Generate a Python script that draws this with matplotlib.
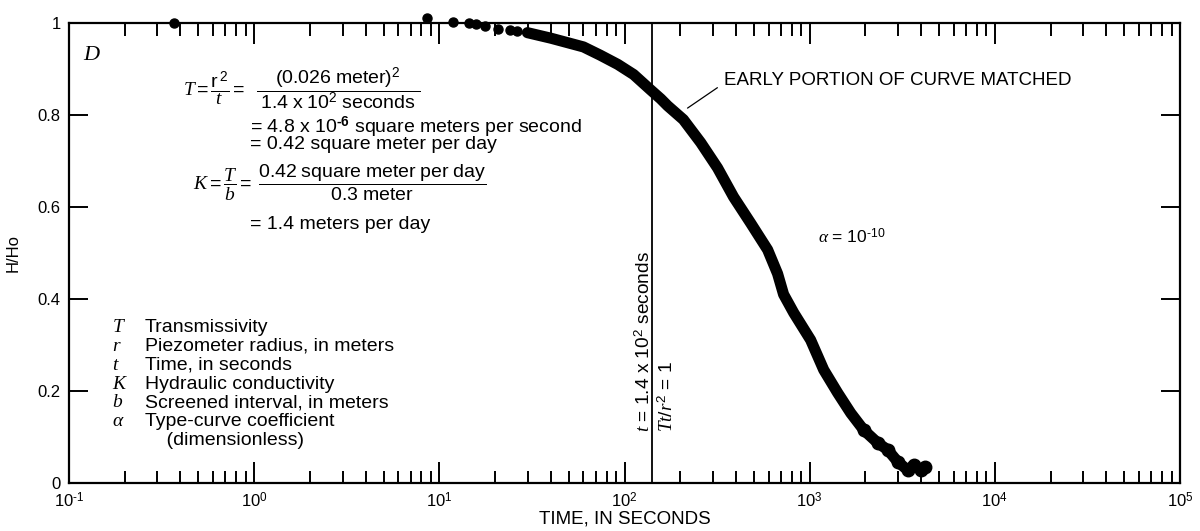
import matplotlib
matplotlib.use('Agg')
import matplotlib.pyplot as plt
from matplotlib.ticker import FixedLocator, FuncFormatter, LogLocator
import numpy as np

plt.rcParams['font.family'] = ['Liberation Sans', 'DejaVu Sans']
plt.rcParams['mathtext.fontset'] = 'custom'
plt.rcParams['mathtext.rm'] = 'Liberation Sans'
plt.rcParams['mathtext.it'] = 'Liberation Serif:italic'
plt.rcParams['mathtext.bf'] = 'Liberation Sans:bold'

HY = '\u2010'  # short hyphen for exponents, like the original lettering

# sparse early readings (seconds, H/Ho)
early_t = [0.37, 8.6, 11.8, 14.4, 15.7, 17.7, 20.8, 24.2, 26.4]
early_h = [1.0, 1.01, 1.003, 1.0, 0.998, 0.993, 0.988, 0.985, 0.983]

# dense part of the record
curve_t = [29.9, 40, 60, 74, 92, 112, 138, 157, 171, 208, 258, 318, 388, 480,
           593, 671, 723, 820, 1012, 1191, 1416, 1667, 1960, 2333, 2642, 2990,
           3388, 3648, 3981, 4200]
curve_h = [0.979, 0.967, 0.948, 0.930, 0.910, 0.888, 0.855, 0.835, 0.82, 0.79,
           0.74, 0.685, 0.622, 0.565, 0.507, 0.455, 0.41, 0.37, 0.311, 0.246,
           0.196, 0.152, 0.115, 0.087, 0.072, 0.046, 0.028, 0.039, 0.028, 0.035]

t_match = 140  # Tt/r^2 = 1
y_ticks = [0, 0.2, 0.4, 0.6, 0.8, 1]

legend_sym = ['$T$', '$r$', '$t$', '$K$', '$b$', r'$\alpha$', '']
legend_txt = ['Transmissivity', 'Piezometer radius, in meters', 'Time, in seconds',
              'Hydraulic conductivity', 'Screened interval, in meters',
              'Type-curve coefficient', '    (dimensionless)']


def dec_label(v, pos):
    e = int(round(np.log10(v)))
    s = str(abs(e))
    if e < 0:
        s = HY + s
    return '10$^{%s}$' % s


fig = plt.figure(figsize=(12, 5.31), dpi=100)
ax = fig.add_axes([69 / 1200, 48 / 531, 1111 / 1200, 460 / 531])
ax.set_xscale('log')
ax.set_xlim(0.1, 1e5)
ax.set_ylim(0, 1)

ax.plot(curve_t, curve_h, '-', color='black', lw=8, solid_capstyle='round',
        solid_joinstyle='round', zorder=3)
ax.plot(curve_t[-8:], curve_h[-8:], 'o', color='black', ms=9, zorder=3)
ax.plot(early_t, early_h, 'o', color='black', ms=6.5, clip_on=False, zorder=4)
ax.axvline(t_match, color='black', lw=1.3)

# axes styling
for s in ax.spines.values():
    s.set_linewidth(1.6)
ax.tick_params(which='both', direction='in', top=True, right=True, width=1.4,
               labelsize=12)
ax.tick_params(which='major', length=15)
ax.tick_params(which='minor', length=9)
ax.tick_params(axis='x', pad=6)
ax.tick_params(axis='y', pad=6)
ax.xaxis.set_major_locator(LogLocator(base=10, numticks=10))
ax.xaxis.set_minor_locator(LogLocator(base=10, subs=range(2, 10), numticks=20))
ax.xaxis.set_major_formatter(FuncFormatter(dec_label))
ax.yaxis.set_major_locator(FixedLocator(y_ticks))
ax.yaxis.set_major_formatter(FuncFormatter(lambda v, p: '%g' % v))
ax.tick_params(axis='y', which='major', length=14)

ax.set_xlabel('TIME, IN SECONDS', fontsize=13.5, labelpad=0)
ax.set_ylabel('H/Ho', fontsize=12, labelpad=12)

# panel letter
ax.text(0.013, 0.93, 'D', transform=ax.transAxes, fontsize=16,
        family='Liberation Serif', style='italic', va='center')

# equations
fs = 14
ax.text(0.1026, 0.857,
        r'$T = \dfrac{\mathrm{r}^{\,2}}{t} =\ \ \dfrac{(0.026\ \mathrm{meter})^{2}}{\ 1.4\ \mathrm{x}\ 10^{2}\ \mathrm{seconds}\ }$',
        transform=ax.transAxes, fontsize=fs, va='center')
ax.text(0.1629, 0.760, r'= 4.8 x 10$^{\mathbf{%s6}}$ square meters per second' % HY,
        transform=ax.transAxes, fontsize=fs, va='baseline')
ax.text(0.1629, 0.727, '= 0.42 square meter per day',
        transform=ax.transAxes, fontsize=fs, va='baseline')
ax.text(0.1116, 0.652,
        r'$K = \dfrac{T}{b} =\ \dfrac{0.42\ \mathrm{square\ meter\ per\ day}}{0.3\ \mathrm{meter}}$',
        transform=ax.transAxes, fontsize=fs, va='center')
ax.text(0.1629, 0.553, '= 1.4 meters per day',
        transform=ax.transAxes, fontsize=fs, va='baseline')

# symbol list
for i, (sym, txt) in enumerate(zip(legend_sym, legend_txt)):
    yy = 0.328 - i * 0.0409
    if sym:
        ax.text(0.039, yy, sym, transform=ax.transAxes, fontsize=fs, va='baseline')
    ax.text(0.068, yy, txt, transform=ax.transAxes, fontsize=fs, va='baseline')

ax.text(0.674, 0.535, r'$\alpha$ = 10$^{%s10}$' % HY, transform=ax.transAxes,
        fontsize=12.5, va='center')

ax.annotate('EARLY PORTION OF CURVE MATCHED', xy=(219, 0.815), xytext=(343, 0.876),
            fontsize=13.5, va='center',
            arrowprops=dict(arrowstyle='-', lw=0.9, color='black',
                            relpos=(0, 0.3), shrinkA=3, shrinkB=0))

# labels along the match line
ax.text(128, 0.111, r'$t$ = 1.4 x 10$^2$ seconds', rotation=90, fontsize=13.8,
        ha='center', va='bottom')
ax.text(171, 0.111, r'$Tt/r^{2}$ = 1', rotation=90, fontsize=13.8,
        ha='center', va='bottom')

fig.savefig('out.png', dpi=100)
